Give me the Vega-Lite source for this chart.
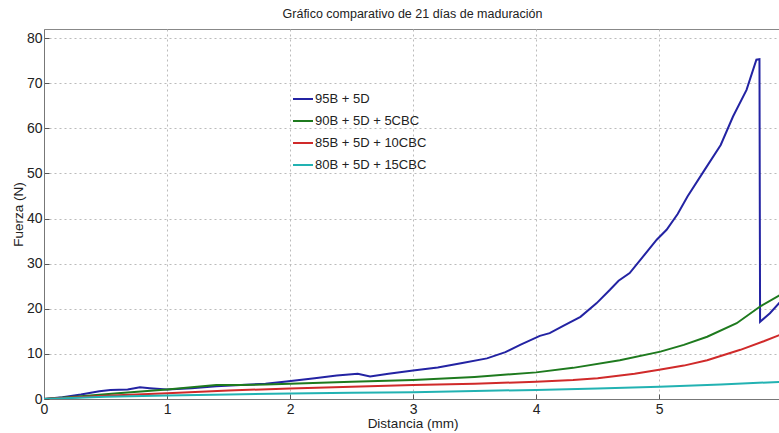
{
  "$schema": "https://vega.github.io/schema/vega-lite/v6.json",
  "width": 737,
  "height": 370,
  "autosize": "none",
  "padding": {"left": 44, "top": 29, "right": 0, "bottom": 34},
  "background": "white",
  "title": {"text": "Gráfico comparativo de 21 días de maduración", "fontSize": 12.5, "font": "Liberation Sans", "fontWeight": "normal", "color": "#222", "offset": 9},
  "config": {"view": {"stroke": "#888", "strokeWidth": 1}, "font": "Liberation Sans"},
  "datasets": {
    "d": [
      {"s": "95B + 5D", "x": 0, "y": 0},
      {"s": "95B + 5D", "x": 0.15, "y": 0.4},
      {"s": "95B + 5D", "x": 0.3, "y": 1.0},
      {"s": "95B + 5D", "x": 0.45, "y": 1.7},
      {"s": "95B + 5D", "x": 0.54, "y": 2.0},
      {"s": "95B + 5D", "x": 0.68, "y": 2.1},
      {"s": "95B + 5D", "x": 0.78, "y": 2.6},
      {"s": "95B + 5D", "x": 0.86, "y": 2.4},
      {"s": "95B + 5D", "x": 1.0, "y": 2.1},
      {"s": "95B + 5D", "x": 1.2, "y": 2.4},
      {"s": "95B + 5D", "x": 1.4, "y": 2.8},
      {"s": "95B + 5D", "x": 1.6, "y": 3.1},
      {"s": "95B + 5D", "x": 1.8, "y": 3.4},
      {"s": "95B + 5D", "x": 1.97, "y": 3.9},
      {"s": "95B + 5D", "x": 2.2, "y": 4.6},
      {"s": "95B + 5D", "x": 2.38, "y": 5.2},
      {"s": "95B + 5D", "x": 2.55, "y": 5.6},
      {"s": "95B + 5D", "x": 2.65, "y": 5.0},
      {"s": "95B + 5D", "x": 2.8, "y": 5.6},
      {"s": "95B + 5D", "x": 3.0, "y": 6.3},
      {"s": "95B + 5D", "x": 3.2, "y": 7.0},
      {"s": "95B + 5D", "x": 3.4, "y": 8.0},
      {"s": "95B + 5D", "x": 3.6, "y": 9.0},
      {"s": "95B + 5D", "x": 3.75, "y": 10.4},
      {"s": "95B + 5D", "x": 3.87, "y": 12.0},
      {"s": "95B + 5D", "x": 4.03, "y": 14.0},
      {"s": "95B + 5D", "x": 4.11, "y": 14.6},
      {"s": "95B + 5D", "x": 4.22, "y": 16.2},
      {"s": "95B + 5D", "x": 4.36, "y": 18.2},
      {"s": "95B + 5D", "x": 4.49, "y": 21.2},
      {"s": "95B + 5D", "x": 4.6, "y": 24.2},
      {"s": "95B + 5D", "x": 4.67, "y": 26.2},
      {"s": "95B + 5D", "x": 4.76, "y": 27.9},
      {"s": "95B + 5D", "x": 4.87, "y": 31.6},
      {"s": "95B + 5D", "x": 4.98, "y": 35.3},
      {"s": "95B + 5D", "x": 5.06, "y": 37.5},
      {"s": "95B + 5D", "x": 5.15, "y": 41.0},
      {"s": "95B + 5D", "x": 5.23, "y": 44.9},
      {"s": "95B + 5D", "x": 5.36, "y": 50.4},
      {"s": "95B + 5D", "x": 5.5, "y": 56.3},
      {"s": "95B + 5D", "x": 5.6, "y": 62.6},
      {"s": "95B + 5D", "x": 5.71, "y": 68.5},
      {"s": "95B + 5D", "x": 5.79, "y": 75.2},
      {"s": "95B + 5D", "x": 5.815, "y": 75.3},
      {"s": "95B + 5D", "x": 5.82, "y": 17.1},
      {"s": "95B + 5D", "x": 5.9, "y": 19.0},
      {"s": "95B + 5D", "x": 5.98, "y": 21.4},
      {"s": "90B + 5D + 5CBC", "x": 0, "y": 0},
      {"s": "90B + 5D + 5CBC", "x": 0.3, "y": 0.6},
      {"s": "90B + 5D + 5CBC", "x": 0.6, "y": 1.3},
      {"s": "90B + 5D + 5CBC", "x": 1.0, "y": 2.1},
      {"s": "90B + 5D + 5CBC", "x": 1.4, "y": 3.1},
      {"s": "90B + 5D + 5CBC", "x": 1.6, "y": 3.1},
      {"s": "90B + 5D + 5CBC", "x": 1.8, "y": 3.2},
      {"s": "90B + 5D + 5CBC", "x": 2.0, "y": 3.4},
      {"s": "90B + 5D + 5CBC", "x": 2.5, "y": 3.8},
      {"s": "90B + 5D + 5CBC", "x": 3.0, "y": 4.2},
      {"s": "90B + 5D + 5CBC", "x": 3.5, "y": 4.9},
      {"s": "90B + 5D + 5CBC", "x": 4.0, "y": 5.9},
      {"s": "90B + 5D + 5CBC", "x": 4.3, "y": 6.9},
      {"s": "90B + 5D + 5CBC", "x": 4.68, "y": 8.6},
      {"s": "90B + 5D + 5CBC", "x": 5.01, "y": 10.5},
      {"s": "90B + 5D + 5CBC", "x": 5.2, "y": 12.0},
      {"s": "90B + 5D + 5CBC", "x": 5.39, "y": 13.8},
      {"s": "90B + 5D + 5CBC", "x": 5.63, "y": 16.8},
      {"s": "90B + 5D + 5CBC", "x": 5.82, "y": 20.5},
      {"s": "90B + 5D + 5CBC", "x": 5.98, "y": 23.0},
      {"s": "85B + 5D + 10CBC", "x": 0, "y": 0},
      {"s": "85B + 5D + 10CBC", "x": 0.5, "y": 0.7},
      {"s": "85B + 5D + 10CBC", "x": 1.0, "y": 1.3},
      {"s": "85B + 5D + 10CBC", "x": 1.5, "y": 1.9},
      {"s": "85B + 5D + 10CBC", "x": 2.0, "y": 2.3},
      {"s": "85B + 5D + 10CBC", "x": 2.5, "y": 2.7},
      {"s": "85B + 5D + 10CBC", "x": 3.0, "y": 3.1},
      {"s": "85B + 5D + 10CBC", "x": 3.5, "y": 3.4},
      {"s": "85B + 5D + 10CBC", "x": 4.0, "y": 3.8},
      {"s": "85B + 5D + 10CBC", "x": 4.3, "y": 4.2},
      {"s": "85B + 5D + 10CBC", "x": 4.5, "y": 4.6},
      {"s": "85B + 5D + 10CBC", "x": 4.8, "y": 5.6},
      {"s": "85B + 5D + 10CBC", "x": 5.0, "y": 6.5},
      {"s": "85B + 5D + 10CBC", "x": 5.2, "y": 7.4},
      {"s": "85B + 5D + 10CBC", "x": 5.39, "y": 8.6},
      {"s": "85B + 5D + 10CBC", "x": 5.66, "y": 10.9},
      {"s": "85B + 5D + 10CBC", "x": 5.85, "y": 12.8},
      {"s": "85B + 5D + 10CBC", "x": 5.98, "y": 14.2},
      {"s": "80B + 5D + 15CBC", "x": 0, "y": 0},
      {"s": "80B + 5D + 15CBC", "x": 0.5, "y": 0.5},
      {"s": "80B + 5D + 15CBC", "x": 1.0, "y": 0.8},
      {"s": "80B + 5D + 15CBC", "x": 1.5, "y": 1.0},
      {"s": "80B + 5D + 15CBC", "x": 2.0, "y": 1.2},
      {"s": "80B + 5D + 15CBC", "x": 2.5, "y": 1.4},
      {"s": "80B + 5D + 15CBC", "x": 3.0, "y": 1.5},
      {"s": "80B + 5D + 15CBC", "x": 3.5, "y": 1.8},
      {"s": "80B + 5D + 15CBC", "x": 4.0, "y": 2.0},
      {"s": "80B + 5D + 15CBC", "x": 4.5, "y": 2.3},
      {"s": "80B + 5D + 15CBC", "x": 5.0, "y": 2.7},
      {"s": "80B + 5D + 15CBC", "x": 5.5, "y": 3.2},
      {"s": "80B + 5D + 15CBC", "x": 5.98, "y": 3.8}
    ]
  },
  "data": {"name": "d"},
  "mark": {"type": "line", "strokeWidth": 2, "clip": true},
  "encoding": {
    "x": {
      "field": "x", "type": "quantitative",
      "scale": {"domain": [0, 5.99], "nice": false, "zero": false},
      "axis": {"title": "Distancia (mm)", "values": [0, 1, 2, 3, 4, 5], "grid": true, "gridDash": [2, 3], "gridColor": "#bbb", "tickSize": -5, "labelPadding": 8, "domainColor": "#777", "tickColor": "#555", "labelFontSize": 14, "labelColor": "#222", "titleFontSize": 13.5, "titleFontWeight": "normal", "titleColor": "#222", "titlePadding": 0, "labelFont": "Liberation Sans", "titleFont": "Liberation Sans", "labelFlush": false}
    },
    "y": {
      "field": "y", "type": "quantitative",
      "scale": {"domain": [0, 82], "nice": false, "zero": false},
      "axis": {"title": "Fuerza (N)", "values": [0, 10, 20, 30, 40, 50, 60, 70, 80], "grid": true, "gridDash": [2, 3], "gridColor": "#bbb", "tickSize": -5, "labelPadding": 7, "domainColor": "#777", "tickColor": "#555", "labelFontSize": 14, "labelColor": "#222", "titleFontSize": 13.5, "titleFontWeight": "normal", "titleColor": "#222", "titlePadding": 1, "labelFont": "Liberation Sans", "titleFont": "Liberation Sans", "labelFlush": false}
    },
    "color": {
      "field": "s", "type": "nominal",
      "scale": {"domain": ["95B + 5D", "90B + 5D + 5CBC", "85B + 5D + 10CBC", "80B + 5D + 15CBC"], "range": ["#2323a3", "#1e7a1e", "#d02a2a", "#22b2b2"]},
      "legend": {"orient": "none", "legendX": 248, "legendY": 59, "title": null, "symbolType": "stroke", "symbolSize": 400, "symbolStrokeWidth": 2, "labelFontSize": 13, "labelFont": "Liberation Sans", "labelColor": "#222", "rowPadding": 4, "labelOffset": 1}
    }
  }
}
